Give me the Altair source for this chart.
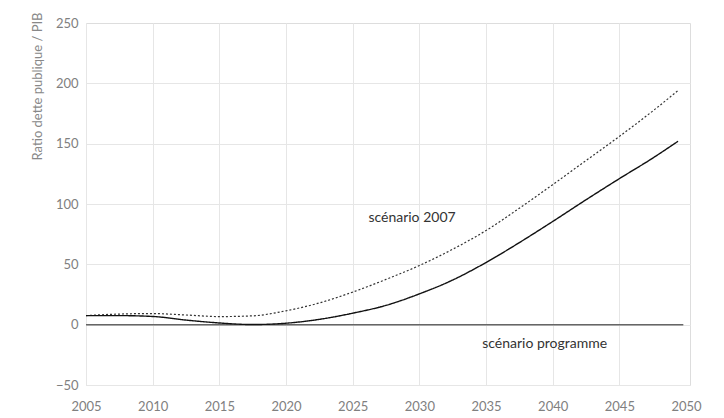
import altair as alt
import pandas as pd

# ---- data ----
years = [2005, 2007.5, 2010, 2012.5, 2015, 2017.5, 2020, 2022.5, 2025, 2027.5,
         2030, 2032.5, 2035, 2037.5, 2040, 2042.5, 2045, 2047.5, 2049.4]
scen_2007 = [7.5, 8.8, 9.2, 8.0, 6.7, 7.3, 11.5, 18.0, 27.0, 37.5,
             49.0, 62.5, 78.0, 96.5, 116.0, 136.0, 156.0, 177.0, 194.0]
scen_prog = [7.5, 7.5, 6.8, 3.8, 1.4, 0.1, 1.2, 4.4, 9.5, 16.0,
             25.5, 37.0, 51.5, 68.0, 85.5, 103.5, 121.0, 138.0, 152.0]
series_names = ["scénario 2007", "scénario programme"]

zero_line = {"x": [2005], "x2": [2049.8], "y": [0]}

label_text = ["scénario 2007", "scénario programme"]
label_x = [2029.45, 2039.4]
label_y = [88.6, -16.0]

x_ticks = [2005, 2010, 2015, 2020, 2025, 2030, 2035, 2040, 2045, 2050]
y_ticks = [-50, 0, 50, 100, 150, 200, 250]

# ---- tables ----
rows = []
for name, vals in zip(series_names, [scen_2007, scen_prog]):
    for yr, v in zip(years, vals):
        rows.append({"annee": yr, "ratio": v, "serie": name})
df = pd.DataFrame(rows)
df_zero = pd.DataFrame(zero_line)
df_lab = pd.DataFrame({"x": label_x, "y": label_y, "t": label_text})

FONT = "Lato"
GRID = "#e6e6e6"

x_scale = alt.Scale(domain=[2005, 2050.3], nice=False, zero=False)
y_scale = alt.Scale(domain=[-50, 250], nice=False)

x_axis = alt.Axis(values=x_ticks, format="d", title=None, ticks=False, domain=False,
                  labelPadding=15, labelFontSize=13, labelColor="#808080", labelFont=FONT,
                  gridColor=alt.condition("datum.value == 2050", alt.value("transparent"), alt.value(GRID)),
                  labelFlush=False)
y_axis = alt.Axis(values=y_ticks, title="Ratio dette publique / PIB", ticks=False, domain=False,
                  labelPadding=8, labelFontSize=13, labelColor="#808080", labelFont=FONT,
                  gridColor=alt.condition("datum.value == 250", alt.value("transparent"), alt.value(GRID)),
                  titleFont=FONT, titleFontSize=13, titleColor="#888888", titleFontWeight="normal",
                  titleAngle=-90, titleAlign="right", titleBaseline="middle",
                  titleX=-49, titleY=-11)

lines = alt.Chart(df).mark_line(interpolate="monotone").encode(
    x=alt.X("annee:Q", scale=x_scale, axis=x_axis),
    y=alt.Y("ratio:Q", scale=y_scale, axis=y_axis),
    detail="serie:N",
    color=alt.Color("serie:N", scale=alt.Scale(domain=series_names, range=["#333333", "#111111"]), legend=None),
    strokeDash=alt.StrokeDash("serie:N", scale=alt.Scale(domain=series_names, range=[[2, 2], [1, 0]]), legend=None),
    strokeWidth=alt.StrokeWidth("serie:N", scale=alt.Scale(domain=series_names, range=[1.2, 1.4]), legend=None),
)

zero = alt.Chart(df_zero).mark_rule(color="#666666", strokeWidth=1.5).encode(
    x=alt.X("x:Q", scale=x_scale),
    x2="x2:Q",
    y=alt.Y("y:Q", scale=y_scale),
)

labels = alt.Chart(df_lab).mark_text(font=FONT, fontSize=14, color="#333333", align="center", baseline="middle").encode(
    x=alt.X("x:Q", scale=x_scale),
    y=alt.Y("y:Q", scale=y_scale),
    text="t:N",
)

chart = alt.layer(zero, lines, labels).properties(
    width=604, height=362,
    autosize=alt.AutoSizeParams(type="none"),
    padding={"left": 78, "top": 15, "right": 20, "bottom": 31},
).configure_view(stroke=None).configure(background="white")

chart.save("out.html", embed_options={"renderer": "svg", "actions": False})
